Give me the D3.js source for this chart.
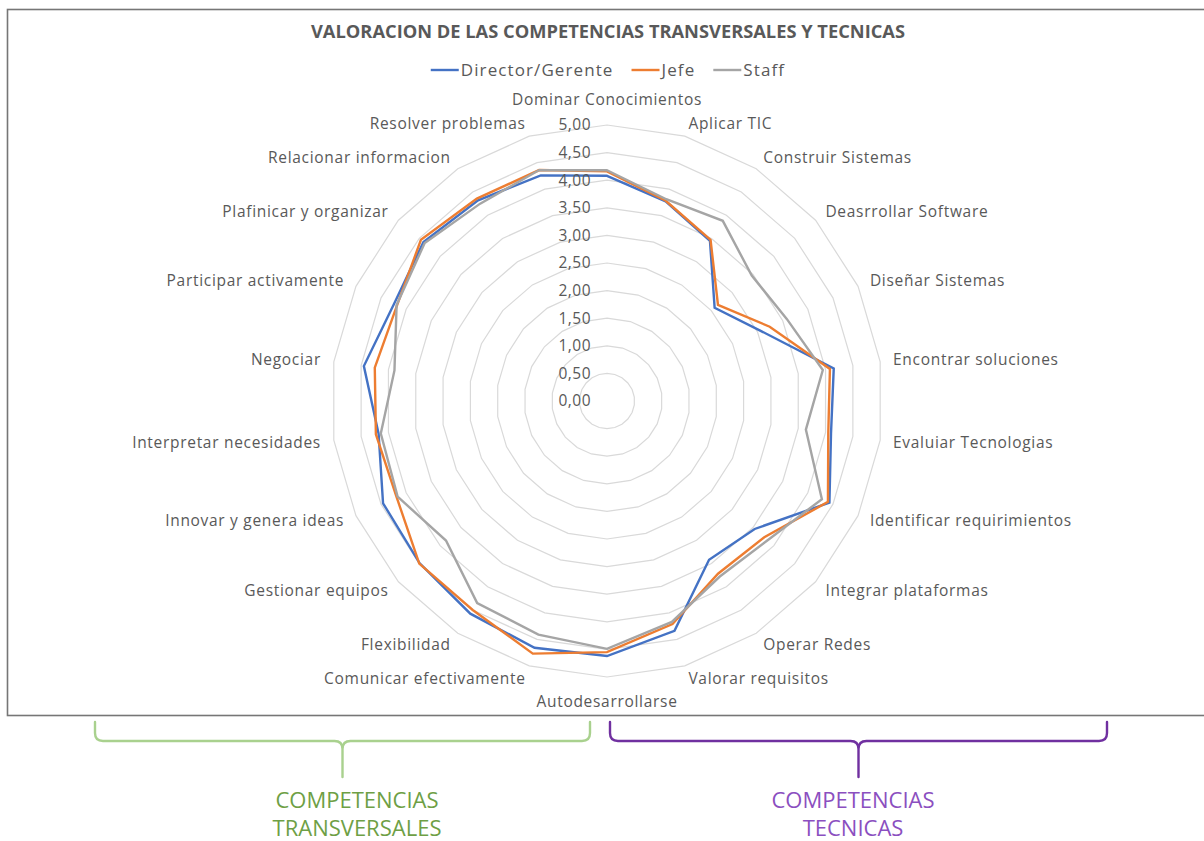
<!DOCTYPE html>
<html>
<head>
<meta charset="utf-8">
<script src="https://cdn.jsdelivr.net/npm/d3@7"></script>
<style>
  html, body { margin: 0; padding: 0; background: #ffffff; }
  svg { display: block; }
</style>
</head>
<body>
<svg id="chart" width="1204" height="841"></svg>
<script>
// ---------------- DATA ----------------
const categories = [
  "Dominar Conocimientos", "Aplicar TIC", "Construir Sistemas", "Deasrrollar Software",
  "Diseñar Sistemas", "Encontrar soluciones", "Evaluiar Tecnologias", "Identificar requirimientos",
  "Integrar plataformas", "Operar Redes", "Valorar requisitos", "Autodesarrollarse",
  "Comunicar efectivamente", "Flexibilidad", "Gestionar equipos", "Innovar y genera ideas",
  "Interpretar necesidades", "Negociar", "Participar activamente", "Plafinicar y organizar",
  "Relacionar informacion", "Resolver problemas"
];
const seriesNames = ["Director/Gerente", "Jefe", "Staff"];
const director = [4.08, 3.77, 3.45, 2.58, 3.06, 4.15, 4.10, 4.43, 3.54, 3.42, 4.34, 4.62,
                  4.66, 4.58, 4.49, 4.46, 4.18, 4.45, 4.24, 4.40, 4.32, 4.26];
const jefe     = [4.16, 3.78, 3.47, 2.66, 3.24, 4.08, 4.05, 4.40, 3.77, 3.72, 4.21, 4.55,
                  4.77, 4.50, 4.50, 4.19, 4.23, 4.25, 4.18, 4.46, 4.36, 4.36];
const staff    = [4.18, 3.81, 3.88, 3.47, 3.58, 3.95, 3.64, 4.28, 3.85, 3.78, 4.17, 4.49,
                  4.41, 4.35, 3.86, 4.17, 4.14, 3.89, 4.19, 4.37, 4.25, 4.36];
const tickValues = [0, 0.5, 1, 1.5, 2, 2.5, 3, 3.5, 4, 4.5, 5];
const chartTitle = "VALORACION DE LAS COMPETENCIAS TRANSVERSALES Y TECNICAS";
const groupLabels = [["COMPETENCIAS", "TRANSVERSALES"], ["COMPETENCIAS", "TECNICAS"]];

// ---------------- STYLE / LAYOUT ----------------
const colors = ["#4472C4", "#ED7D31", "#A5A5A5"];
const textColor = "#595959";
const font = "'Open Sans', 'Noto Sans', sans-serif";
const cx = 607, cy = 401, R = 276;

const svg = d3.select("#chart");
svg.append("rect").attr("width", 1204).attr("height", 841).attr("fill", "#fff");

// chart frame
svg.append("rect")
  .attr("x", 7.5).attr("y", 9.5).attr("width", 1210).attr("height", 706)
  .attr("fill", "none").attr("stroke", "#767676").attr("stroke-width", 1.6);

const n = categories.length;
const r = d3.scaleLinear().domain([0, 5]).range([0, R]);
const angle = d3.scaleLinear().domain([0, n]).range([0, 2 * Math.PI]);

const g = svg.append("g").attr("transform", `translate(${cx},${cy})`);

// grid polygons
const ringLine = d3.lineRadial()
  .angle((d, i) => angle(i))
  .radius(d => r(d))
  .curve(d3.curveLinearClosed);

g.append("g").selectAll("path")
  .data(tickValues.filter(v => v > 0))
  .join("path")
  .attr("d", v => ringLine(categories.map(() => v)))
  .attr("fill", "none")
  .attr("stroke", "#d9d9d9")
  .attr("stroke-width", 1.2);

// data series
const allSeries = [director, jefe, staff];
g.append("g").selectAll("path")
  .data(allSeries)
  .join("path")
  .attr("d", d => ringLine(d))
  .attr("fill", "none")
  .attr("stroke", (d, i) => colors[i])
  .attr("stroke-width", 2.4)
  .attr("stroke-linejoin", "miter");

// value axis tick labels
const fmt = d3.formatLocale({ decimal: ",", thousands: ".", grouping: [3], currency: ["", ""] }).format(".2f");
g.append("g").selectAll("text")
  .data(tickValues)
  .join("text")
  .attr("x", -16)
  .attr("y", v => -r(v))
  .attr("dy", "0.35em")
  .attr("text-anchor", "end")
  .attr("font-family", font)
  .attr("font-size", 15.5)
  .attr("letter-spacing", 0.5)
  .attr("fill", textColor)
  .text(v => fmt(v));

// category labels
const labelR = R + 13;
g.append("g").selectAll("text")
  .data(categories)
  .join("text")
  .each(function (d, i) {
    const a = angle(i);
    const s = Math.sin(a), c = Math.cos(a);
    let x = labelR * s, y = -labelR * c;
    let anchor = "middle";
    if (Math.abs(s) < 0.01) { y += -c * 12; }
    else anchor = s > 0 ? "start" : "end";
    d3.select(this)
      .attr("x", x).attr("y", y)
      .attr("dy", "0.35em")
      .attr("text-anchor", anchor);
  })
  .attr("font-family", font)
  .attr("font-size", 15.5)
  .attr("letter-spacing", 0.7)
  .attr("fill", textColor)
  .text(d => d);

// title
svg.append("text")
  .attr("x", 608).attr("y", 32).attr("dy", "0.35em")
  .attr("text-anchor", "middle")
  .attr("font-family", font)
  .attr("font-weight", 700)
  .attr("font-size", 18)
  .attr("textLength", 594)
  .attr("lengthAdjust", "spacingAndGlyphs")
  .attr("fill", textColor)
  .text(chartTitle);

// legend
const legend = svg.append("g").attr("transform", "translate(0,70)");
const items = legend.selectAll("g").data(seriesNames).join("g");
items.append("line")
  .attr("x1", 0).attr("x2", 28).attr("y1", 0).attr("y2", 0)
  .attr("stroke", (d, i) => colors[i]).attr("stroke-width", 2.4);
items.append("text")
  .attr("x", 30).attr("dy", "0.35em")
  .attr("font-family", font).attr("font-size", 17).attr("letter-spacing", 1.1)
  .attr("fill", textColor)
  .text(d => d);
let offsets = [], acc = 0;
items.each(function () {
  offsets.push(acc);
  acc += this.getBBox().width + 18;
});
acc -= 18;
const legStart = 608 - acc / 2;
items.attr("transform", (d, i) => `translate(${legStart + offsets[i]},0)`);

// group braces
const braces = [
  { x0: 95, x1: 590, tx: 357, color: "#A9D18E", text: "#6E9F45", label: groupLabels[0] },
  { x0: 610, x1: 1107, tx: 853, color: "#7030A0", text: "#8B4FC0", label: groupLabels[1] }
];
const yTop = 722, yH = 741, yStem = 777, rad = 8;
braces.forEach(b => {
  const m = (b.x0 + b.x1) / 2;
  const p = d3.path();
  p.moveTo(b.x0, yTop);
  p.lineTo(b.x0, yH - rad);
  p.quadraticCurveTo(b.x0, yH, b.x0 + rad, yH);
  p.lineTo(m - rad, yH);
  p.quadraticCurveTo(m, yH, m, yH + rad);
  p.lineTo(m, yStem);
  p.moveTo(m, yH + rad);
  p.quadraticCurveTo(m, yH, m + rad, yH);
  p.lineTo(b.x1 - rad, yH);
  p.quadraticCurveTo(b.x1, yH, b.x1, yH - rad);
  p.lineTo(b.x1, yTop);
  svg.append("path").attr("d", p.toString())
    .attr("fill", "none").attr("stroke", b.color).attr("stroke-width", 2.4)
    .attr("stroke-linecap", "round");
  svg.append("g").selectAll("text").data(b.label).join("text")
    .attr("x", b.tx).attr("y", (d, i) => 800 + i * 28).attr("dy", "0.35em")
    .attr("text-anchor", "middle")
    .attr("font-family", font).attr("font-size", 22)
    .attr("fill", b.text)
    .text(d => d);
});
</script>
</body>
</html>
